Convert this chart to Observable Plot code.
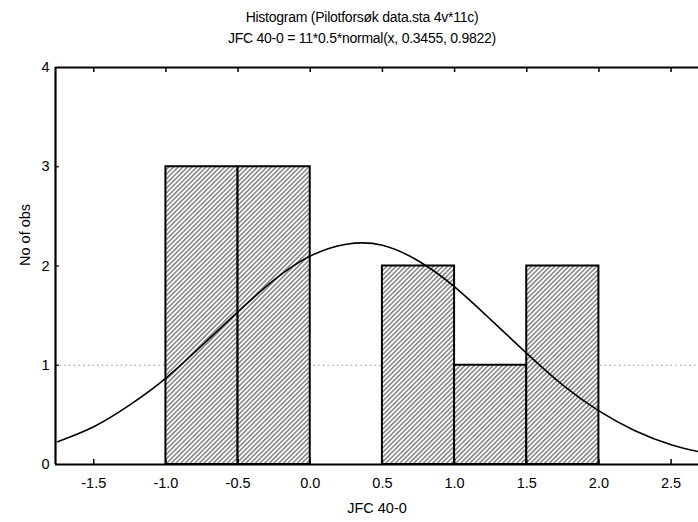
<!DOCTYPE html>
<html>
<head>
<meta charset="utf-8">
<script src="https://cdn.jsdelivr.net/npm/d3@7"></script>
<script src="https://cdn.jsdelivr.net/npm/@observablehq/plot@0.6"></script>
<style>
  html, body { margin: 0; padding: 0; background: #fff; }
  #wrap { position: relative; width: 698px; height: 522px; font-family: "Liberation Sans", Arial, sans-serif; }
  .ttl { position: absolute; left: 362px; transform: translate(-50%, -50%); white-space: nowrap; font-size: 14px; color: #000; letter-spacing: -0.25px; }
  #chart { position: absolute; left: 0; top: 50px; }
</style>
</head>
<body>
<div id="wrap">
  <div class="ttl" style="top:17px">Histogram (Pilotforsøk data.sta 4v*11c)</div>
  <div class="ttl" style="top:38px">JFC 40-0 = 11*0.5*normal(x, 0.3455, 0.9822)</div>
  <div id="chart"></div>
</div>
<script>
// Histogram bins
const binStart = [-1.0, -0.5, 0.5, 1.0, 1.5];
const binEnd   = [-0.5, 0.0, 1.0, 1.5, 2.0];
const counts   = [3, 3, 2, 1, 2];

// Fitted curve
const curveX = [-1.75, -1.5, -1.25, -1.0, -0.75, -0.5, -0.25, 0.0, 0.25, 0.5, 0.75, 1.0, 1.25, 1.5, 1.75, 2.0, 2.25, 2.5, 2.75];
const curveY = [0.23, 0.38, 0.60, 0.87, 1.20, 1.54, 1.86, 2.10, 2.22, 2.21, 2.05, 1.79, 1.46, 1.12, 0.80, 0.54, 0.34, 0.20, 0.11];

// Axis ticks
const xTicks = [-1.5, -1.0, -0.5, 0.0, 0.5, 1.0, 1.5, 2.0, 2.5];
const yTicks = [0, 1, 2, 3, 4];
const gridY = [1];

const bins = binStart.map((s, i) => ({x1: s, x2: binEnd[i], count: counts[i]}));
const curve = curveX.map((x, i) => ({x, y: curveY[i]}));

const W = 698, H = 472, mT = 17, mB = 58, mL = 55, mR = 0;
const plotH = H - mT - mB, plotW = W - mL - mR;

const plot = Plot.plot({
  width: W,
  height: H,
  marginTop: mT,
  marginBottom: mB,
  marginLeft: mL,
  marginRight: mR,
  style: {fontFamily: "'Liberation Sans', Arial, sans-serif", fontSize: "14.5px", background: "white", color: "black"},
  x: {domain: [-1.765, 2.69]},
  y: {domain: [0, 4]},
  marks: [
    Plot.ruleY(gridY, {stroke: "#777", strokeDasharray: "1.2,3.5", strokeWidth: 1}),
    Plot.rect(bins, {x1: "x1", x2: "x2", y1: 0, y2: "count", fill: "url(#hatch)", stroke: "black", strokeWidth: 2}),
    Plot.line(curve, {x: "x", y: "y", curve: "natural", stroke: "black", strokeWidth: 1.6, clip: true}),
    Plot.ruleY([0], {stroke: "black", strokeWidth: 2.2}),
    Plot.ruleY([4], {stroke: "black", strokeWidth: 1.8}),
    Plot.ruleX([-1.765], {stroke: "black", strokeWidth: 2.2}),
    Plot.tickX(xTicks, {x: d => d, insetTop: plotH - 5, stroke: "black", strokeWidth: 1.5}),
    Plot.tickX(xTicks, {x: d => d, insetBottom: plotH - 5, stroke: "black", strokeWidth: 1.5}),
    Plot.tickY(yTicks.slice(1, 4), {y: d => d, insetRight: plotW - 4, stroke: "black", strokeWidth: 1.2}),
    Plot.axisX(xTicks, {tickSize: 0, tickPadding: 13, tickFormat: d => d.toFixed(1), label: null, fontSize: 14.5}),
    Plot.axisY(yTicks, {tickSize: 0, tickPadding: 6, tickFormat: d => String(d), label: null, fontSize: 14.5}),
    Plot.text(["JFC 40-0"], {frameAnchor: "bottom", dy: 48, fontSize: 14.5}),
    Plot.text(["No of obs"], {frameAnchor: "left", dx: -30, rotate: -90, fontSize: 14.5})
  ]
});

const svgSel = d3.select(plot);
const defs = svgSel.insert("defs", ":first-child");
const pat = defs.append("pattern")
  .attr("id", "hatch")
  .attr("patternUnits", "userSpaceOnUse")
  .attr("width", 3.3)
  .attr("height", 3.3)
  .attr("patternTransform", "rotate(45)");
pat.append("rect").attr("width", 3.3).attr("height", 3.3).attr("fill", "white");
pat.append("line").attr("x1", 0.8).attr("y1", 0).attr("x2", 0.8).attr("y2", 3.3)
  .attr("stroke", "#444").attr("stroke-width", 1.0);

document.getElementById("chart").appendChild(plot);
</script>
</body>
</html>
